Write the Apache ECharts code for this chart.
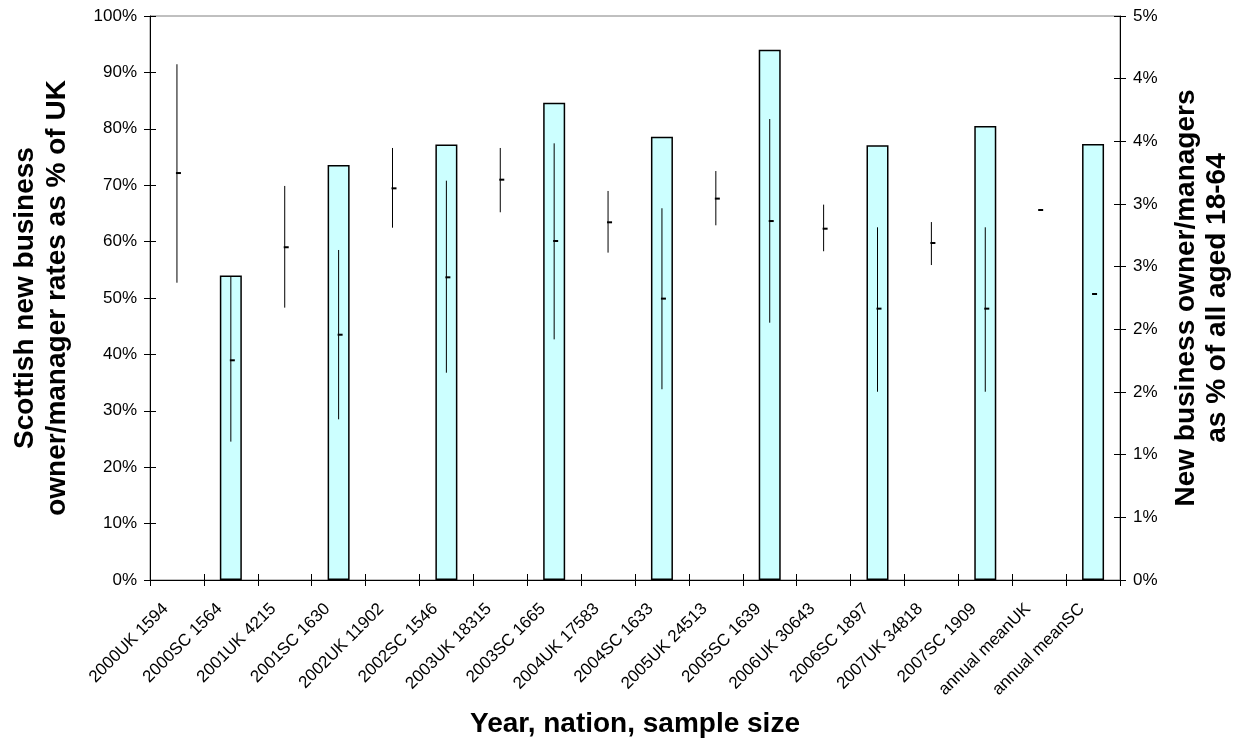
<!DOCTYPE html>
<html>
<head>
<meta charset="utf-8">
<title>New business owner/manager rates, Scotland vs UK</title>
<script src="https://cdn.jsdelivr.net/npm/echarts@6/dist/echarts.min.js"></script>
<style>
  html, body { margin: 0; padding: 0; background: #ffffff; }
  #chart { width: 1242px; height: 742px; }
</style>
</head>
<body>
<div id="chart"></div>
<script>
// Category labels: year, nation and sample size
var categories = [
  '2000UK 1594', '2000SC 1564', '2001UK 4215', '2001SC 1630',
  '2002UK 11902', '2002SC 1546', '2003UK 18315', '2003SC 1665',
  '2004UK 17583', '2004SC 1633', '2005UK 24513', '2005SC 1639',
  '2006UK 30643', '2006SC 1897', '2007UK 34818', '2007SC 1909',
  'annual meanUK', 'annual meanSC'
];

// Scottish rate as % of UK rate (left axis), shown on the SC categories only
var scotlandAsPctOfUK = [
  null, 54.0, null, 73.6, null, 77.2, null, 84.6, null,
  78.6, null, 94.0, null, 77.1, null, 80.5, null, 77.3
];

// New business owner/manager rate, % of all aged 18-64 (right axis)
var rateMean = [
  3.247, 1.753, 2.655, 1.957, 3.125, 2.415, 3.194, 2.705, 2.854,
  2.245, 3.043, 2.864, 2.803, 2.165, 2.689, 2.165, 2.952, 2.282
];
var rateLow = [
  2.372, 1.104, 2.173, 1.282, 2.811, 1.654, 2.934, 1.920, 2.612,
  1.522, 2.830, 2.053, 2.623, 1.502, 2.513, 1.502, null, null
];
var rateHigh = [
  4.115, 2.418, 3.144, 2.633, 3.447, 3.186, 3.447, 3.484, 3.104,
  2.966, 3.263, 3.678, 2.995, 2.814, 2.856, 2.814, null, null
];

// Axis tick values
var leftTicks = { min: 0, max: 100, interval: 10 };
var rightTicks = { min: 0, max: 4.5, interval: 0.5 };

var FONT = 'Arial, "Liberation Sans", Helvetica, sans-serif';

var errorData = categories.map(function (c, i) {
  return [i, rateLow[i], rateHigh[i], rateMean[i]];
});

var chart = echarts.init(document.getElementById('chart'), null, { renderer: 'canvas' });

var tickOut = { show: true, inside: false, length: 6, lineStyle: { color: '#000', width: 1 } };
var tickIn = { show: true, inside: true, length: 6, lineStyle: { color: '#000', width: 1 } };

chart.setOption({
  animation: false,
  backgroundColor: '#ffffff',
  grid: {
    left: 150, right: 122, top: 16, bottom: 162,
    containLabel: false, outerBoundsMode: 'none',
    show: true, borderColor: '#808080', borderWidth: 1, backgroundColor: 'transparent'
  },
  xAxis: [
    {
      type: 'category', data: categories, position: 'bottom', boundaryGap: true,
      axisLine: { show: true, lineStyle: { color: '#000', width: 1 } },
      axisTick: Object.assign({ alignWithLabel: false, interval: 0 }, tickOut),
      axisLabel: {
        interval: 0, rotate: 45, margin: 15, padding: [0, 16, 0, 0],
        color: '#000', fontFamily: FONT, fontSize: 17
      },
      splitLine: { show: false }
    },
    {
      type: 'category', data: categories, position: 'bottom', boundaryGap: true,
      axisLine: { show: false },
      axisTick: Object.assign({ interval: 0 }, tickIn),
      axisLabel: { show: false },
      splitLine: { show: false }
    }
  ],
  yAxis: [
    {
      type: 'value', position: 'left',
      min: leftTicks.min, max: leftTicks.max, interval: leftTicks.interval,
      axisLine: { show: true, lineStyle: { color: '#000', width: 1 } },
      axisTick: tickOut,
      axisLabel: { formatter: '{value}%', margin: 13, color: '#000', fontFamily: FONT, fontSize: 17 },
      splitLine: { show: false }
    },
    {
      type: 'value', position: 'right',
      min: rightTicks.min, max: rightTicks.max, interval: rightTicks.interval,
      axisLine: { show: true, lineStyle: { color: '#000', width: 1 } },
      axisTick: tickOut,
      axisLabel: {
        formatter: function (v) { return Math.round(v + 1e-9) + '%'; },
        margin: 13, color: '#000', fontFamily: FONT, fontSize: 17
      },
      splitLine: { show: false }
    },
    {
      type: 'value', position: 'left',
      min: leftTicks.min, max: leftTicks.max, interval: leftTicks.interval,
      axisLine: { show: false }, axisTick: tickIn, axisLabel: { show: false }, splitLine: { show: false }
    },
    {
      type: 'value', position: 'right',
      min: rightTicks.min, max: rightTicks.max, interval: rightTicks.interval,
      axisLine: { show: false }, axisTick: tickIn, axisLabel: { show: false }, splitLine: { show: false }
    }
  ],
  series: [
    {
      name: 'Scotland as % of UK',
      type: 'bar',
      xAxisIndex: 0, yAxisIndex: 0,
      data: scotlandAsPctOfUK,
      barWidth: 22,
      itemStyle: { color: '#CCFFFF', borderColor: '#000', borderWidth: 1.5 },
      z: 2
    },
    {
      name: 'Rate with range',
      type: 'custom',
      xAxisIndex: 0, yAxisIndex: 1,
      data: errorData,
      encode: { x: 0, y: [1, 2, 3] },
      z: 5,
      renderItem: function (params, api) {
        var i = api.value(0);
        var lo = api.value(1), hi = api.value(2), m = api.value(3);
        var children = [];
        if (isFinite(lo) && isFinite(hi) && lo !== null && hi !== null) {
          var p1 = api.coord([i, lo]);
          var p2 = api.coord([i, hi]);
          children.push({
            type: 'line',
            shape: { x1: p1[0], y1: p1[1], x2: p2[0], y2: p2[1] },
            style: { stroke: '#000', lineWidth: 1 }
          });
        }
        var c = api.coord([i, m]);
        children.push({
          type: 'rect',
          shape: { x: c[0] - 1, y: c[1] - 1, width: 5, height: 2 },
          style: { fill: '#000' }
        });
        return { type: 'group', children: children };
      }
    }
  ],
  graphic: [
    {
      type: 'text', x: 41, y: 298, rotation: Math.PI / 2,
      style: {
        text: 'Scottish new business\nowner/manager rates as % of UK',
        font: 'bold 28px ' + FONT, lineHeight: 32,
        textAlign: 'center', textVerticalAlign: 'middle', fill: '#000'
      }
    },
    {
      type: 'text', x: 1202, y: 298, rotation: Math.PI / 2,
      style: {
        text: 'New business owner/managers\nas % of all aged 18-64',
        font: 'bold 28px ' + FONT, lineHeight: 31,
        textAlign: 'center', textVerticalAlign: 'middle', fill: '#000'
      }
    },
    {
      type: 'text', x: 635, y: 724,
      style: {
        text: 'Year, nation, sample size',
        font: 'bold 28px ' + FONT,
        textAlign: 'center', textVerticalAlign: 'middle', fill: '#000'
      }
    }
  ]
});
</script>
</body>
</html>
